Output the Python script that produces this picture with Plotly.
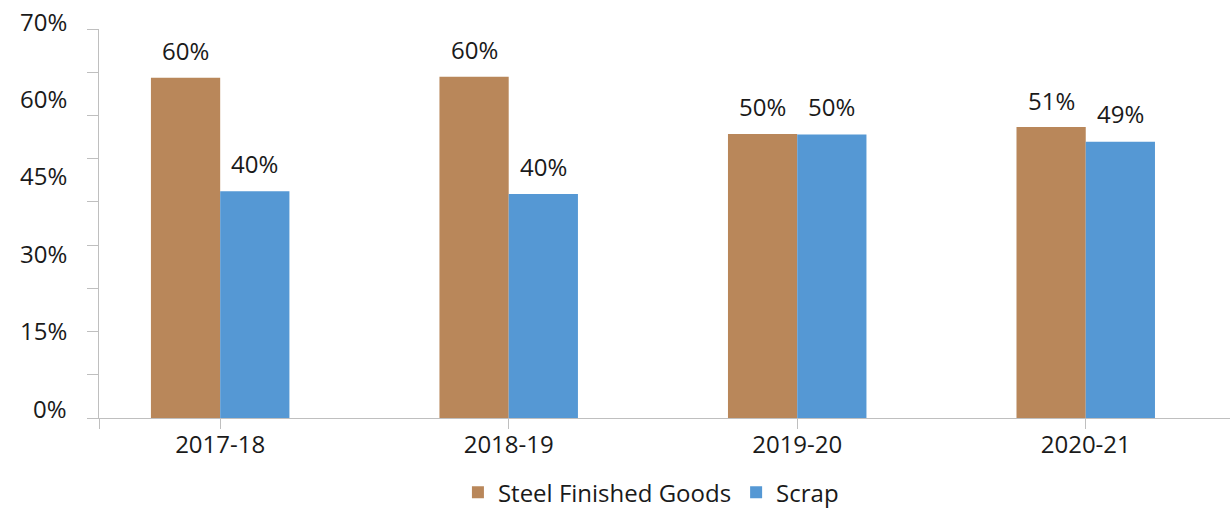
import plotly.graph_objects as go

categories = ["2017-18", "2018-19", "2019-20", "2020-21"]
steel_finished = [60.0, 60.2, 50.1, 51.3]
scrap = [40.0, 39.5, 50.0, 48.7]
steel_labels = ["60%", "60%", "50%", "51%"]
scrap_labels = ["40%", "40%", "50%", "49%"]
y_tick_text = ["0%", "15%", "30%", "45%", "60%", "70%"]
y_tick_pos = [1.76, 15.41, 29.06, 42.7, 56.4, 70.0]

BROWN = "#B9875A"
BLUE = "#5598D4"
AXIS = "#BFBFBF"
FONT = "Open Sans"
FS = 24
TXT = "#1a1a1a"

x = list(range(len(categories)))
BAR_W = 0.24
Y_MAX = 68.6

fig = go.Figure()
fig.add_bar(x=x, y=steel_finished, name="Steel Finished Goods",
            marker=dict(color=BROWN, line=dict(width=0)))
fig.add_bar(x=x, y=scrap, name="Scrap",
            marker=dict(color=BLUE, line=dict(width=0)))

ann = []
for i, (v, t) in enumerate(zip(steel_finished, steel_labels)):
    ann.append(dict(x=i - BAR_W / 2, y=v, text=t, showarrow=False, xref="x", yref="y",
                    yanchor="middle", yshift=27, font=dict(family=FONT, size=FS, color=TXT)))
for i, (v, t) in enumerate(zip(scrap, scrap_labels)):
    ann.append(dict(x=i + BAR_W / 2, y=v, text=t, showarrow=False, xref="x", yref="y",
                    yanchor="middle", yshift=28, font=dict(family=FONT, size=FS, color=TXT)))
for p, t in zip(y_tick_pos, y_tick_text):
    ann.append(dict(x=0, y=p / Y_MAX, text=t, showarrow=False, xref="paper", yref="paper",
                    xanchor="right", yanchor="middle", xshift=-30,
                    font=dict(family=FONT, size=FS, color=TXT)))

fig.update_layout(
    width=1230, height=508,
    margin=dict(l=99, r=0, t=29, b=90),
    paper_bgcolor="white", plot_bgcolor="white",
    barmode="group", bargap=0.52, bargroupgap=0,
    font=dict(family=FONT, size=FS, color=TXT),
    showlegend=True,
    legend=dict(orientation="h", x=0.488, xanchor="center", y=0.03, yref="container",
                yanchor="middle", font=dict(family=FONT, size=FS, color=TXT),
                itemclick=False, bgcolor="rgba(0,0,0,0)"),
    annotations=ann,
    xaxis=dict(range=[-0.42, 3.5], tickmode="array", tickvals=[-0.42] + x,
               ticktext=[""] + categories, ticks="outside", ticklen=10, tickcolor=AXIS,
               tickwidth=1, showline=True, linecolor=AXIS, linewidth=1, showgrid=False,
               zeroline=False, ticklabelstandoff=-5,
               tickfont=dict(family=FONT, size=FS, color=TXT)),
    yaxis=dict(range=[0, Y_MAX], tickmode="array",
               tickvals=[k * Y_MAX / 9 for k in range(10)], ticks="outside", ticklen=11,
               tickcolor=AXIS, tickwidth=1, showticklabels=False, showline=True,
               linecolor=AXIS, linewidth=1, showgrid=False, zeroline=False),
)

fig.write_html("out.html")
